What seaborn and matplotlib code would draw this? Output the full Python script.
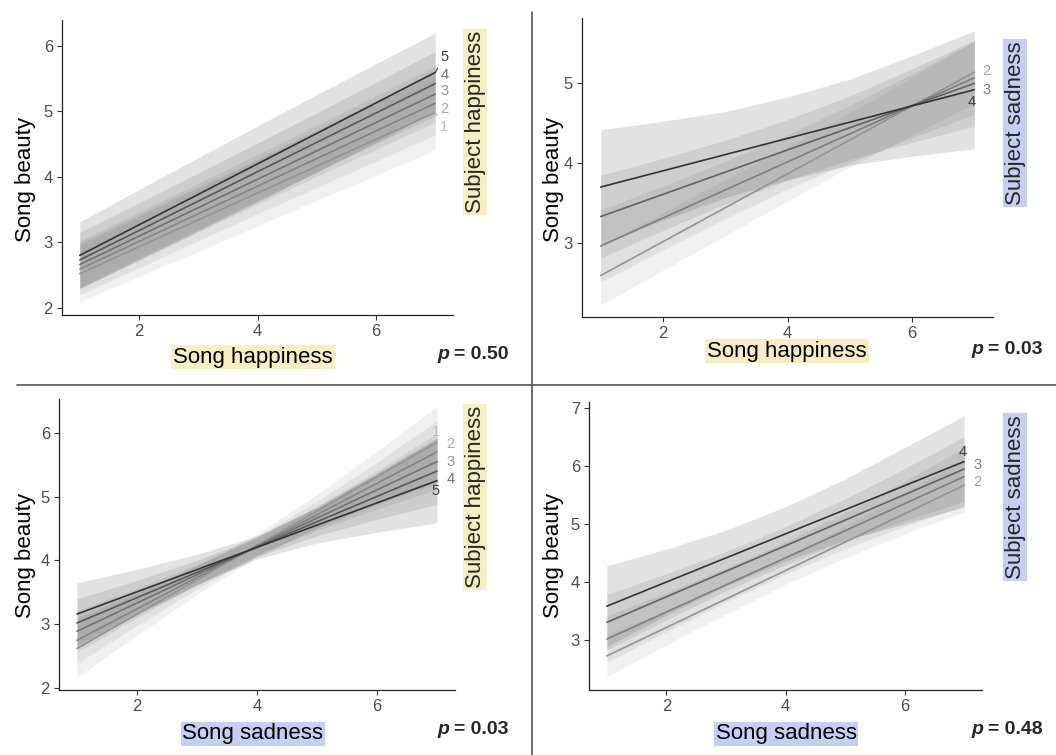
import numpy as np
import pandas as pd
import matplotlib
matplotlib.use("Agg")
import matplotlib.pyplot as plt
from matplotlib.lines import Line2D
import seaborn as sns

W, H = 1056, 755

line_x = [1, 7]
band_x = [1, 2, 3, 4, 5, 6, 7]

# top left: beauty ~ song happiness, by subject happiness (1-5)
hh_levels = [1, 2, 3, 4, 5]
hh_start = [2.52, 2.59, 2.66, 2.73, 2.80]
hh_end = [4.98, 5.12, 5.26, 5.42, 5.59]
hh_hw = [
    [0.43, 0.45, 0.48, 0.50, 0.52, 0.55, 0.57],
    [0.39, 0.40, 0.41, 0.42, 0.44, 0.46, 0.48],
    [0.36, 0.36, 0.37, 0.38, 0.39, 0.41, 0.43],
    [0.42, 0.42, 0.43, 0.44, 0.45, 0.47, 0.49],
    [0.51, 0.54, 0.56, 0.58, 0.59, 0.60, 0.60],
]
hh_lab = [1, 2, 3, 4, 5]
hh_lab_x = [7.15, 7.16, 7.16, 7.16, 7.15]
hh_lab_y = [4.76, 5.03, 5.30, 5.55, 5.83]
hh_lab_seg = [True, False, False, False, True]

# top right: beauty ~ song happiness, by subject sadness (1-4)
hs_levels = [1, 2, 3, 4]
hs_start = [2.59, 2.96, 3.33, 3.70]
hs_end = [5.14, 5.07, 5.00, 4.92]
hs_hw = [
    [0.37, 0.36, 0.35, 0.34, 0.34, 0.36, 0.39],
    [0.45, 0.40, 0.36, 0.34, 0.36, 0.40, 0.46],
    [0.52, 0.45, 0.40, 0.38, 0.40, 0.46, 0.54],
    [0.72, 0.62, 0.54, 0.52, 0.54, 0.63, 0.74],
]
hs_lab = [2, 3, 4]
hs_lab_x = [7.20, 7.20, 6.95]
hs_lab_y = [5.15, 4.92, 4.77]
hs_lab_seg = [False, False, False]

# bottom left: beauty ~ song sadness, by subject happiness (1-5)
sh_levels = [1, 2, 3, 4, 5]
sh_start = [2.62, 2.75, 2.89, 3.02, 3.16]
sh_end = [5.85, 5.70, 5.55, 5.40, 5.25]
sh_hw = [
    [0.45, 0.33, 0.23, 0.18, 0.26, 0.40, 0.57],
    [0.36, 0.26, 0.18, 0.15, 0.21, 0.33, 0.49],
    [0.32, 0.23, 0.16, 0.13, 0.19, 0.30, 0.44],
    [0.38, 0.27, 0.19, 0.15, 0.22, 0.36, 0.52],
    [0.49, 0.35, 0.24, 0.18, 0.28, 0.46, 0.66],
]
sh_lab = [1, 2, 3, 4, 5]
sh_lab_x = [6.98, 7.22, 7.22, 7.22, 6.98]
sh_lab_y = [6.01, 5.82, 5.54, 5.27, 5.09]
sh_lab_seg = [False, False, False, False, False]

# bottom right: beauty ~ song sadness, by subject sadness (1-4)
ss_levels = [1, 2, 3, 4]
ss_start = [2.72, 3.01, 3.30, 3.58]
ss_end = [5.67, 5.82, 5.95, 6.08]
ss_hw = [
    [0.36, 0.30, 0.26, 0.24, 0.27, 0.35, 0.46],
    [0.40, 0.34, 0.29, 0.28, 0.31, 0.39, 0.50],
    [0.48, 0.40, 0.34, 0.33, 0.37, 0.45, 0.56],
    [0.70, 0.57, 0.48, 0.47, 0.53, 0.66, 0.79],
]
ss_lab = [2, 3, 4]
ss_lab_x = [7.22, 7.22, 6.98]
ss_lab_y = [5.73, 6.02, 6.25]
ss_lab_seg = [False, False, False]

YELLOW = "#f6efc4"
BLUE = "#c6cef4"

panels = [
    dict(levels=hh_levels, start=hh_start, end=hh_end, hw=hh_hw,
         lab=hh_lab, lab_x=hh_lab_x, lab_y=hh_lab_y, seg=hh_lab_seg,
         ylim=(1.89, 6.39), yticks=[2, 3, 4, 5, 6],
         xlabel="Song happiness", xcol=YELLOW, side="Subject happiness", scol=YELLOW,
         p="0.50", box=(62, 20, 453, 315),
         ylab_c=(25, 180), xlab_c=(253, 357), side_c=(475, 122), p_pos=(437, 355)),
    dict(levels=hs_levels, start=hs_start, end=hs_end, hw=hs_hw,
         lab=hs_lab, lab_x=hs_lab_x, lab_y=hs_lab_y, seg=hs_lab_seg,
         ylim=(2.07, 5.82), yticks=[3, 4, 5],
         xlabel="Song happiness", xcol=YELLOW, side="Subject sadness", scol=BLUE,
         p="0.03", box=(582, 18, 993, 317),
         ylab_c=(553, 180), xlab_c=(787, 351), side_c=(1015, 123), p_pos=(971, 349)),
    dict(levels=sh_levels, start=sh_start, end=sh_end, hw=sh_hw,
         lab=sh_lab, lab_x=sh_lab_x, lab_y=sh_lab_y, seg=sh_lab_seg,
         ylim=(1.97, 6.53), yticks=[2, 3, 4, 5, 6],
         xlabel="Song sadness", xcol=BLUE, side="Subject happiness", scol=YELLOW,
         p="0.03", box=(59, 399, 455, 690),
         ylab_c=(25, 555), xlab_c=(253, 734), side_c=(475, 497), p_pos=(437, 730)),
    dict(levels=ss_levels, start=ss_start, end=ss_end, hw=ss_hw,
         lab=ss_lab, lab_x=ss_lab_x, lab_y=ss_lab_y, seg=ss_lab_seg,
         ylim=(2.13, 7.11), yticks=[3, 4, 5, 6, 7],
         xlabel="Song sadness", xcol=BLUE, side="Subject sadness", scol=BLUE,
         p="0.48", box=(589, 402, 982, 690),
         ylab_c=(553, 555), xlab_c=(786, 734), side_c=(1015, 497), p_pos=(971, 729)),
]


def grey_pal(levels, start=0.2, end=0.8):
    # ggplot-like grey scale, highest level darkest
    vals = np.linspace(start ** 2.2, end ** 2.2, len(levels)) ** (1 / 2.2)
    return {lv: (v, v, v) for lv, v in zip(levels, vals[::-1])}


sns.set_theme(style="ticks")
plt.rcParams["font.family"] = ["Liberation Sans", "DejaVu Sans"]

fig = plt.figure(figsize=(W / 100, H / 100), dpi=100)
fig.patch.set_facecolor("white")

for spec in panels:
    l, t, r, b = spec["box"]
    ax = fig.add_axes([l / W, 1 - b / H, (r - l) / W, (b - t) / H])
    levels = spec["levels"]
    line_pal = grey_pal(levels, 0.2, 0.58)
    fill_pal = grey_pal(levels, 0.2, 0.6)
    text_pal = grey_pal(levels, 0.25, 0.74)

    # confidence ribbons
    for i, lv in enumerate(levels):
        centre = np.interp(band_x, line_x, [spec["start"][i], spec["end"][i]])
        hw = np.array(spec["hw"][i])
        ax.fill_between(band_x, centre - hw, centre + hw, color=fill_pal[lv],
                        alpha=0.14, linewidth=0)

    # fitted lines
    df = pd.DataFrame({
        "x": line_x * len(levels),
        "y": [v for s, e in zip(spec["start"], spec["end"]) for v in (s, e)],
        "level": [lv for lv in levels for _ in line_x],
    })
    sns.lineplot(data=df, x="x", y="y", hue="level", palette=line_pal, legend=False,
                 ax=ax, linewidth=1.2, errorbar=None)

    # level labels at the line ends
    for lv, lx, ly, seg in zip(spec["lab"], spec["lab_x"], spec["lab_y"], spec["seg"]):
        i = levels.index(lv)
        arrow = dict(arrowstyle="-", color=text_pal[lv], lw=0.9, shrinkA=1, shrinkB=0) if seg else None
        ax.annotate(str(lv), xy=(line_x[-1], spec["end"][i]), xytext=(lx, ly),
                    color=text_pal[lv], fontsize=10.5, ha="center", va="center",
                    arrowprops=arrow, annotation_clip=False)

    ax.set_xlim(0.7, 7.3)
    ax.set_ylim(*spec["ylim"])
    ax.set_xticks([2, 4, 6])
    ax.set_yticks(spec["yticks"])
    sns.despine(ax=ax)
    for s in ["left", "bottom"]:
        ax.spines[s].set_color("#222222")
        ax.spines[s].set_linewidth(0.9)
    ax.tick_params(labelsize=12, labelcolor="#4d4d4d", color="#333333", length=3.5, width=0.8,
                   pad=3)

    ax.set_xlabel(spec["xlabel"], fontsize=16, color="black",
                  bbox=dict(boxstyle="square,pad=0.08", fc=spec["xcol"], ec="none"))
    cx, cy = spec["xlab_c"]
    ax.xaxis.set_label_coords((cx - l) / (r - l), (b - cy) / (b - t))
    ax.xaxis.label.set_va("center")

    ax.set_ylabel("Song beauty", fontsize=16, color="black")
    cx, cy = spec["ylab_c"]
    ax.yaxis.set_label_coords((cx - l) / (r - l), (b - cy) / (b - t))
    ax.yaxis.label.set_va("center")

    cx, cy = spec["side_c"]
    fig.text(cx / W, 1 - cy / H, spec["side"], rotation=90, fontsize=16,
             ha="center", va="center",
             bbox=dict(boxstyle="square,pad=0.08", fc=spec["scol"], ec="none"))

    px, py = spec["p_pos"]
    fig.text(px / W, 1 - py / H, "p", fontsize=14, fontweight="bold", style="italic",
             ha="left", va="center")
    fig.text((px + 17) / W, 1 - py / H, "= " + spec["p"], fontsize=14, fontweight="bold",
             ha="left", va="center")

# panel dividers
fig.add_artist(Line2D([532 / W, 532 / W], [1 - 12 / H, 0], color="#555555", lw=1.2))
fig.add_artist(Line2D([17 / W, 1], [1 - 385 / H, 1 - 385 / H], color="#555555", lw=1.2))

fig.savefig("out.png", dpi=100)
